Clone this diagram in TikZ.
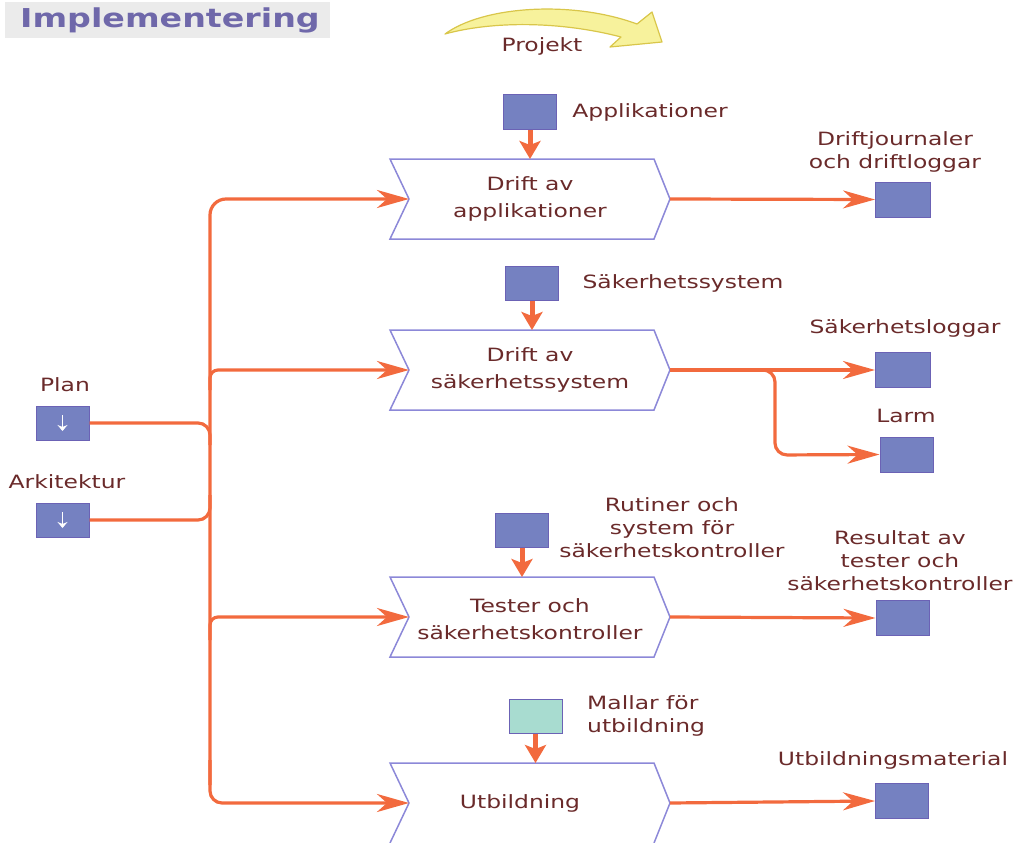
\documentclass[tikz,border=0pt]{standalone}
\usepackage{fontspec}
\setmainfont{DejaVu Sans}[FakeStretch=1.28]
\usetikzlibrary{arrows.meta}
\definecolor{wire}{HTML}{F26A3E}
\definecolor{txt}{HTML}{6A2A2A}
\definecolor{sqfill}{HTML}{7581C1}
\definecolor{sqedge}{HTML}{6B62B5}
\definecolor{tealfill}{HTML}{A8DCD0}
\definecolor{chev}{HTML}{8C88D8}
\definecolor{titletxt}{HTML}{6F68AA}
\definecolor{titlebg}{HTML}{EBEBEB}
\definecolor{bandfill}{HTML}{F7F29C}
\definecolor{bandedge}{HTML}{D9C64A}

\tikzset{
  chevline/.style={draw=chev, line width=1.5pt},
  chev/.pic={
    \path[chevline, fill=white] (-140,-40) -- (124,-40) -- (140,0) -- (124,40)
      -- (-140,40) -- (-121,0) -- cycle;
    \coordinate (-in) at (-121,0);
    \coordinate (-out) at (140,0);
    \coordinate (-top) at (0,-40);
  },
  chevopen/.pic={
    \path[chevline] (-140,40) -- (-121,0) -- (-140,-40) -- (124,-40) -- (140,0) -- (124,40);
    \coordinate (-in) at (-121,0);
    \coordinate (-out) at (140,0);
    \coordinate (-top) at (0,-40);
  },
}

\begin{document}
\begin{tikzpicture}[x=1pt,y=-1pt,
  lbl/.style={text=txt, font=\fontsize{18.3}{23}\selectfont, align=center, inner sep=0pt},
  boxtxt/.style={text=txt, font=\fontsize{18.3}{27}\selectfont, align=center, inner sep=0pt},
  sq/.style={draw=sqedge, fill=sqfill, line width=1pt, minimum width=53pt, minimum height=34pt, inner sep=0pt},
  tealsq/.style={sq, fill=tealfill},
  flow/.style={draw=wire, line width=3.2pt, -{Stealth[length=32pt,width=18pt,inset=10pt]}},
  wireline/.style={draw=wire, line width=3.2pt},
  feed/.style={draw=wire, line width=5pt, -{Stealth[length=18pt,width=21pt,inset=4pt]}},
  whitearrow/.style={draw=white, line width=1.6pt, -{Stealth[length=6pt,width=10pt]}},
]
\useasboundingbox (0,0) rectangle (1018,843);
\clip (0,0) rectangle (1018,843);

% heading
\fill[titlebg] (5,2) rectangle (330,38);
\node[text=titletxt, font=\bfseries\fontsize{26}{30}\selectfont, inner sep=0pt] (title) at (170,20) {Implementering};

% project band arrow
\path[fill=bandfill, draw=bandedge, line width=1.2pt, line join=round]
  (445,34) .. controls (483,6) and (572,0) .. (637,24) -- (652,12) -- (662,42)
  -- (610,47) -- (621,37) .. controls (560,21) and (492,21) .. (445,34) -- cycle;
\node[lbl] (proj) at (542,46) {Projekt};

% process steps
\pic (d1) at (530,199) {chev};
\pic (d2) at (530,370) {chev};
\pic (d3) at (530,617) {chev};
\pic (d4) at (530,803) {chevopen};
\node[boxtxt] (t1) at (530,199) {Drift av\\applikationer};
\node[boxtxt] (t2) at (530,370) {Drift av\\säkerhetssystem};
\node[boxtxt] (t3) at (530,619) {Tester och\\säkerhetskontroller};
\node[boxtxt] (t4) at (520,803) {Utbildning};

% inputs from above
\node[sq] (i1) at (530,112) {};
\node[lbl] (li1) at (650,112) {Applikationer};
\node[sq] (i2) at (532,283) {};
\node[lbl] (li2) at (683,283) {Säkerhetssystem};
\node[sq] (i3) at (522,530) {};
\node[lbl] (li3) at (672,528) {Rutiner och\\system för\\säkerhetskontroller};
\node[tealsq] (i4) at (535.5,716.5) {};
\node[lbl, align=left, anchor=west] (li4) at (587,716) {Mallar för\\utbildning};

\draw[feed] (i1.south) -- (i1.south |- d1-top);
\draw[feed] (i2.south) -- (i2.south |- d2-top);
\draw[feed] (i3.south) -- (i3.south |- d3-top);
\draw[feed] (i4.south) -- (i4.south |- d4-top);

% outputs
\node[sq, minimum width=55pt, minimum height=35pt] (o1) at (903,199.5) {};
\node[lbl] (lo1) at (895,152) {Driftjournaler\\och driftloggar};
\node[sq, minimum width=55pt, minimum height=35pt] (o2) at (903,370) {};
\node[lbl] (lo2) at (905,328) {Säkerhetsloggar};
\node[sq, minimum width=53pt, minimum height=35pt] (larm) at (906.5,454.5) {};
\node[lbl] (llarm) at (906,416) {Larm};
\node[sq, minimum width=53pt, minimum height=35pt] (o3) at (902.5,618) {};
\node[lbl] (lo3) at (900,561) {Resultat av\\tester och\\säkerhetskontroller};
\node[sq, minimum width=53pt, minimum height=35pt] (o4) at (902,801) {};
\node[lbl] (lo4) at (893,760) {Utbildningsmaterial};

\draw[flow] (d1-out) -- (o1.west);
\draw[flow] (d2-out) -- (o2.west);
\coordinate (split) at (760,370);
\coordinate (drop) at (775,455);
\draw[flow, rounded corners=12pt] (split) -| (drop) -- (larm.west);
\draw[flow] (d3-out) -- (o3.west);
\draw[flow] (d4-out) -- (o4.west);

% left-hand inputs
\node[sq] (plan) at (62.5,423) {};
\node[lbl] (lplan) at (65,385) {Plan};
\node[sq] (ark) at (62.5,520) {};
\node[lbl] (lark) at (67,482) {Arkitektur};
\draw[whitearrow] ([yshift=8pt]plan.center) -- ([yshift=-8pt]plan.center);
\draw[whitearrow] ([yshift=8pt]ark.center) -- ([yshift=-8pt]ark.center);

% distribution bus
\coordinate (busbot) at (210,785);
\coordinate (b2) at (210,390);
\coordinate (b3) at (210,640);
\coordinate (b4) at (210,760);
\coordinate (bp) at (210,445);
\coordinate (ba) at (210,495);
\draw[flow, rounded corners=16pt] (busbot) |- (d1-in);
\draw[flow, rounded corners=8pt] (b2) |- (d2-in);
\draw[flow, rounded corners=8pt] (b3) |- (d3-in);
\draw[flow, rounded corners=12pt] (b4) |- (d4-in);
\draw[wireline, rounded corners=12pt] (plan.east) -| (bp);
\draw[wireline, rounded corners=12pt] (ark.east) -| (ba);
\end{tikzpicture}
\end{document}
